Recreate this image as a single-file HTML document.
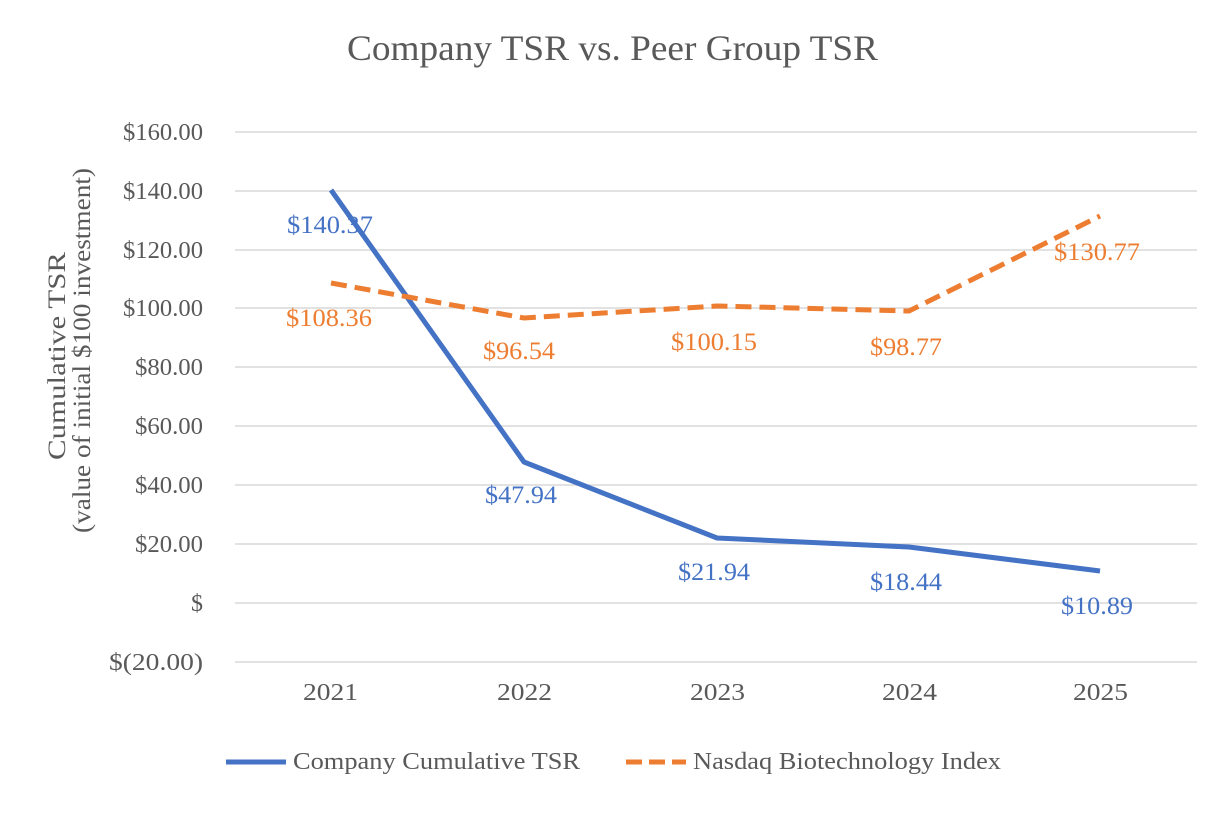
<!DOCTYPE html>
<html><head><meta charset="utf-8"><style>
body{margin:0;background:#fff;}
svg text{font-family:"Liberation Serif",serif;}
</style></head><body>
<svg width="1226" height="816" viewBox="0 0 1226 816" xmlns="http://www.w3.org/2000/svg">
<rect width="1226" height="816" fill="#fff"/>
<text x="347" y="60" font-size="36" fill="#595959" textLength="531" lengthAdjust="spacingAndGlyphs">Company TSR vs. Peer Group TSR</text>
<g stroke="#d9d9d9" stroke-width="1.5">
<line x1="235" x2="1197" y1="132" y2="132"/><line x1="235" x2="1197" y1="191" y2="191"/>
<line x1="235" x2="1197" y1="250" y2="250"/><line x1="235" x2="1197" y1="308" y2="308"/>
<line x1="235" x2="1197" y1="367" y2="367"/><line x1="235" x2="1197" y1="426" y2="426"/>
<line x1="235" x2="1197" y1="485" y2="485"/><line x1="235" x2="1197" y1="544" y2="544"/>
<line x1="235" x2="1197" y1="603" y2="603"/><line x1="235" x2="1197" y1="662" y2="662"/>
</g>
<g font-size="24" fill="#595959">
<text x="123" y="140" textLength="80" lengthAdjust="spacingAndGlyphs">$160.00</text><text x="123" y="199" textLength="80" lengthAdjust="spacingAndGlyphs">$140.00</text>
<text x="123" y="258" textLength="80" lengthAdjust="spacingAndGlyphs">$120.00</text><text x="123" y="316" textLength="80" lengthAdjust="spacingAndGlyphs">$100.00</text>
<text x="135" y="375" textLength="68" lengthAdjust="spacingAndGlyphs">$80.00</text><text x="135" y="434" textLength="68" lengthAdjust="spacingAndGlyphs">$60.00</text>
<text x="135" y="493" textLength="68" lengthAdjust="spacingAndGlyphs">$40.00</text><text x="135" y="552" textLength="68" lengthAdjust="spacingAndGlyphs">$20.00</text>
<text x="191" y="611" textLength="12" lengthAdjust="spacingAndGlyphs">$</text><text x="109" y="670" textLength="94" lengthAdjust="spacingAndGlyphs">$(20.00)</text>
</g>
<g font-size="24" fill="#595959">
<text x="303" y="700" textLength="55" lengthAdjust="spacingAndGlyphs">2021</text><text x="497" y="700" textLength="55" lengthAdjust="spacingAndGlyphs">2022</text><text x="690" y="700" textLength="55" lengthAdjust="spacingAndGlyphs">2023</text>
<text x="882" y="700" textLength="55" lengthAdjust="spacingAndGlyphs">2024</text><text x="1073" y="700" textLength="55" lengthAdjust="spacingAndGlyphs">2025</text>
</g>
<g font-size="25" fill="#595959">
<text transform="translate(65,460) rotate(-90)" textLength="208" lengthAdjust="spacingAndGlyphs">Cumulative TSR</text>
<text transform="translate(90,533) rotate(-90)" textLength="365" lengthAdjust="spacingAndGlyphs">(value of initial $100 investment)</text>
</g>
<polyline points="331,190 524,462 717,538 909,547 1100,571" fill="none" stroke="#4472C4" stroke-width="5" stroke-linejoin="round"/>
<polyline points="331,283 524,318 717,306 909,311 1100,216" fill="none" stroke="#ED7D31" stroke-width="5" stroke-dasharray="16,8"/>
<g font-size="25" fill="#4472C4">
<text x="287" y="233" textLength="86" lengthAdjust="spacingAndGlyphs">$140.37</text><text x="485" y="503" textLength="72" lengthAdjust="spacingAndGlyphs">$47.94</text>
<text x="678" y="580" textLength="72" lengthAdjust="spacingAndGlyphs">$21.94</text><text x="870" y="590" textLength="72" lengthAdjust="spacingAndGlyphs">$18.44</text><text x="1061" y="614" textLength="72" lengthAdjust="spacingAndGlyphs">$10.89</text>
</g>
<g font-size="25" fill="#ED7D31">
<text x="286" y="326" textLength="86" lengthAdjust="spacingAndGlyphs">$108.36</text><text x="483" y="359" textLength="72" lengthAdjust="spacingAndGlyphs">$96.54</text>
<text x="671" y="350" textLength="86" lengthAdjust="spacingAndGlyphs">$100.15</text><text x="870" y="355" textLength="72" lengthAdjust="spacingAndGlyphs">$98.77</text><text x="1054" y="260" textLength="86" lengthAdjust="spacingAndGlyphs">$130.77</text>
</g>
<line x1="226" x2="286" y1="762" y2="762" stroke="#4472C4" stroke-width="5"/>
<text x="293" y="769" font-size="24" fill="#595959" textLength="287" lengthAdjust="spacingAndGlyphs">Company Cumulative TSR</text>
<line x1="626" x2="686" y1="762" y2="762" stroke="#ED7D31" stroke-width="5" stroke-dasharray="16,7"/>
<text x="693" y="769" font-size="24" fill="#595959" textLength="308" lengthAdjust="spacingAndGlyphs">Nasdaq Biotechnology Index</text>
</svg>
</body></html>
